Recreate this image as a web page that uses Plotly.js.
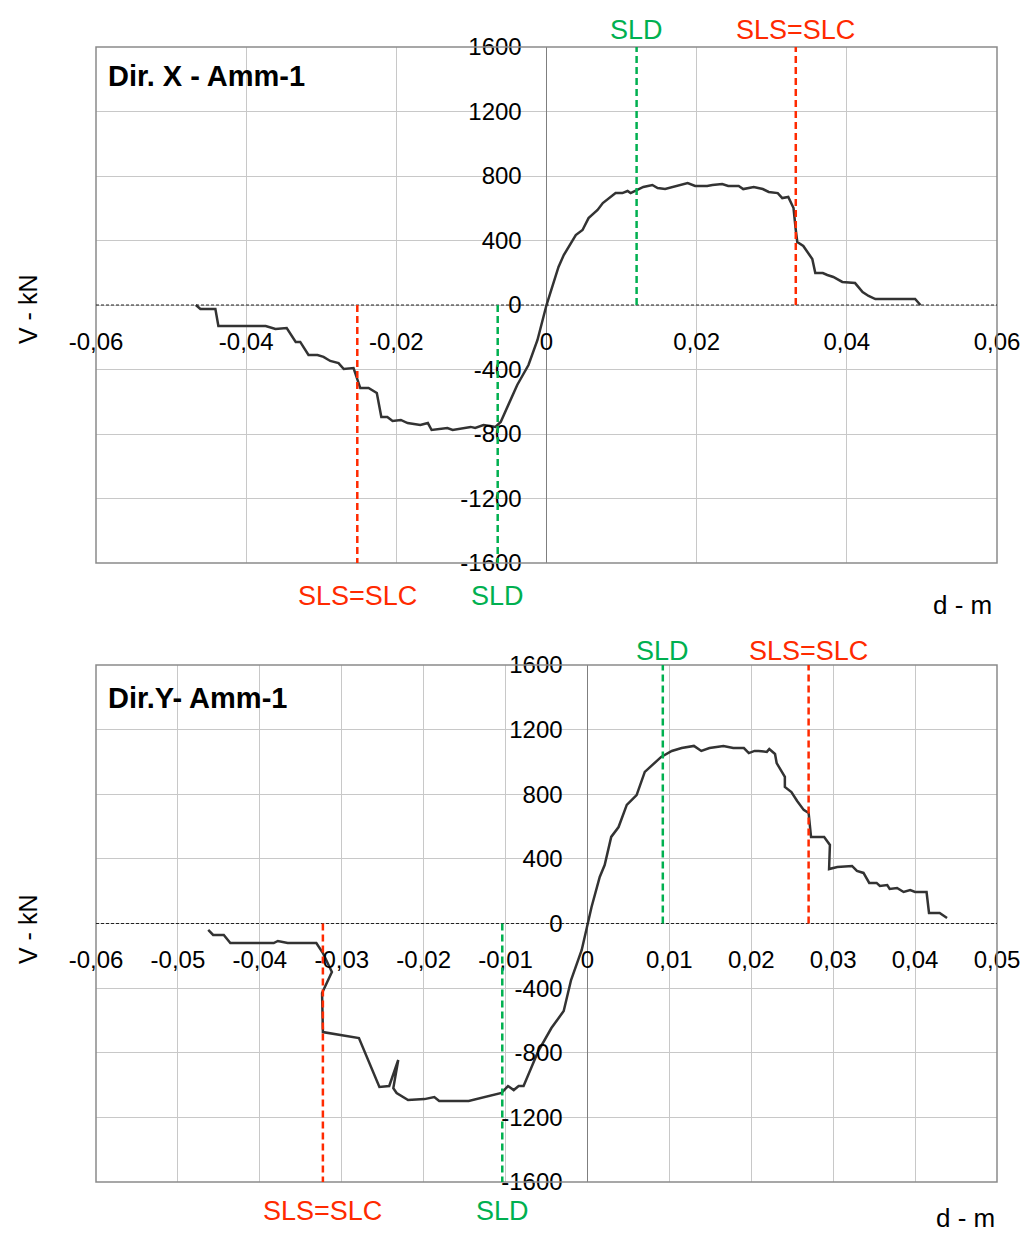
<!DOCTYPE html>
<html><head><meta charset="utf-8">
<script src="https://cdn.plot.ly/plotly-3.0.1.min.js"></script>
<style>body{margin:0;background:#fff}#chart{width:1020px;height:1234px}</style>
</head><body><div id="chart"></div>
<script>
// ---- Direction X (top chart) ----
const dispX = [-0.0467,-0.0461,-0.0441,-0.0437,-0.0374,-0.0361,-0.0346,-0.0334,-0.0328,-0.0317,-0.0305,-0.0297,-0.0288,-0.0277,-0.0270,-0.0257,-0.0248,-0.0237,-0.0226,-0.0220,-0.0212,-0.0205,-0.0194,-0.0185,-0.0168,-0.0158,-0.0153,-0.0132,-0.0125,-0.0101,-0.0095,-0.0084,-0.0075,-0.0068,-0.0061,-0.0039,-0.0024,-0.0012,0,0.0016,0.0023,0.0039,0.0048,0.0056,0.0068,0.0075,0.0092,0.0101,0.0108,0.0112,0.0123,0.0129,0.0141,0.0148,0.0158,0.0168,0.0178,0.0188,0.0198,0.0214,0.0221,0.0234,0.0242,0.0256,0.0262,0.0276,0.0288,0.0296,0.0308,0.0314,0.0322,0.0329,0.0332,0.0334,0.0342,0.0354,0.0358,0.0368,0.0374,0.0382,0.0394,0.0411,0.0421,0.0429,0.0438,0.0491,0.0498];
const shearX = [0,-25,-25,-130,-130,-149,-143,-229,-229,-310,-310,-322,-347,-360,-397,-391,-515,-515,-546,-694,-694,-719,-713,-732,-744,-732,-775,-763,-775,-756,-763,-744,-750,-756,-725,-496,-372,-217,0,236,310,434,465,539,589,632,694,694,707,694,719,732,744,725,719,732,744,756,738,738,744,750,738,738,719,732,719,701,694,663,670,601,465,391,366,285,198,198,186,174,143,136,81,56,37,37,0];
const sldX = [0.0120, -0.0065];
const slcX = [0.0332, -0.0252];
const tickValsX = [-0.06,-0.04,-0.02,0,0.02,0.04,0.06];
const tickTextX = ["-0,06","-0,04","-0,02","0","0,02","0,04","0,06"];

// ---- Direction Y (bottom chart) ----
const dispY = [-0.0463,-0.0457,-0.0444,-0.0436,-0.0383,-0.0378,-0.0366,-0.0331,-0.0323,-0.0312,-0.0324,-0.0323,-0.0279,-0.0254,-0.0242,-0.0231,-0.0237,-0.0233,-0.0219,-0.0199,-0.0187,-0.0181,-0.0145,-0.0126,-0.0105,-0.0097,-0.0090,-0.0084,-0.0078,-0.0060,-0.0044,-0.0029,-0.0020,-0.0007,-0.0001,0.0005,0.0015,0.0021,0.0029,0.0038,0.0048,0.0060,0.0070,0.0090,0.0103,0.0115,0.0130,0.0139,0.0149,0.0166,0.0178,0.0191,0.0197,0.0204,0.0209,0.0219,0.0222,0.0229,0.0231,0.0241,0.0241,0.0249,0.0256,0.0264,0.0270,0.0273,0.0289,0.0296,0.0295,0.0305,0.0323,0.0329,0.0337,0.0344,0.0353,0.0357,0.0366,0.0369,0.0378,0.0386,0.0394,0.0400,0.0414,0.0417,0.0430,0.0439];
const shearY = [-40,-71,-71,-121,-121,-108,-121,-121,-183,-300,-430,-672,-709,-1012,-1006,-845,-1019,-1049,-1093,-1087,-1074,-1099,-1099,-1074,-1049,-1006,-1031,-1006,-1006,-790,-647,-542,-350,-164,-22,102,288,362,536,597,734,795,938,1031,1068,1086,1099,1068,1086,1099,1086,1086,1055,1068,1068,1062,1080,1049,993,907,845,814,758,703,684,535,535,486,337,350,356,325,313,251,251,232,238,214,220,195,207,195,195,65,65,34];
const sldY = [0.0092, -0.0104];
const slcY = [0.0270, -0.0323];
const tickValsY = [-0.06,-0.05,-0.04,-0.03,-0.02,-0.01,0,0.01,0.02,0.03,0.04,0.05];
const tickTextY = ["-0,06","-0,05","-0,04","-0,03","-0,02","-0,01","0","0,01","0,02","0,03","0,04","0,05"];

const shearTicks = [-1600,-1200,-800,-400,0,400,800,1200,1600];
const shearTickText = ["-1600","-1200","-800","-400","0","400","800","1200","1600"];

const titles = ["Dir. X - Amm-1", "Dir.Y- Amm-1"];
const labelSLD = "SLD", labelSLC = "SLS=SLC";

// ---- layout helpers ----
const W = 1020, H = 1234;
const px = x => x / W, py = y => 1 - y / H;
const FONT = "Liberation Sans, Arial, sans-serif";
const RED = "#ff2a00", GREEN = "#00b050";
const xDom = [px(96), px(997)];
const panels = [
  {xa:"x", ya:"y", top:47, bot:563, range:[-0.06,0.06], tv:tickValsX, tt:tickTextX, d:dispX, v:shearX, sld:sldX, slc:slcX, title:titles[0],
   titleY:76, vTitleY:310, dTitle:[962,605], topLab:0, botLab:-16},
  {xa:"x2", ya:"y2", top:665, bot:1182, range:[-0.06,0.05], tv:tickValsY, tt:tickTextY, d:dispY, v:shearY, sld:sldY, slc:slcY, title:titles[1],
   titleY:698, vTitleY:930, dTitle:[965,1218], topLab:-3, botLab:-12}
];

const data = [];
const layout = {
  width: W, height: H, margin:{l:0,r:0,t:0,b:0}, showlegend:false,
  paper_bgcolor:"#fff", plot_bgcolor:"#fff",
  font:{family:FONT, size:24, color:"#000"},
  shapes:[], annotations:[]
};

panels.forEach((p, i) => {
  const sfx = i === 0 ? "" : "2";
  const yDom = [py(p.bot), py(p.top)];
  const xZeroPos = xDom[0] + (0 - p.range[0]) / (p.range[1] - p.range[0]) * (xDom[1] - xDom[0]);
  const yZeroPos = (yDom[0] + yDom[1]) / 2;
  layout["xaxis" + sfx] = {
    domain: xDom, range: p.range, anchor: "free", position: yZeroPos,
    tickmode: "array", tickvals: p.tv, ticktext: p.tt, ticklabeloverflow: "allow",
    showgrid: true, gridcolor: "#c8c8c8", gridwidth: 1,
    zeroline: true, zerolinecolor: "#7f7f7f", zerolinewidth: 1.5,
    showline: false, ticks: "outside", ticklen: 15, tickcolor: "rgba(0,0,0,0)",
    tickfont: {family: FONT, size: 24, color: "#000"}, fixedrange: true
  };
  layout["yaxis" + sfx] = {
    domain: yDom, range: [-1600, 1600], anchor: "free", position: xZeroPos,
    tickmode: "array", tickvals: shearTicks, ticktext: shearTickText, ticklabeloverflow: "allow",
    showgrid: true, gridcolor: "#c8c8c8", gridwidth: 1,
    zeroline: false, showline: false, ticks: "outside", ticklen: 20, tickcolor: "rgba(0,0,0,0)",
    tickfont: {family: FONT, size: 24, color: "#000"}, fixedrange: true
  };
  data.push({x: p.d, y: p.v, xaxis: p.xa, yaxis: p.ya, type: "scatter", mode: "lines",
             line: {color: "#333333", width: 2.5}, hoverinfo: "skip"});
  // frame
  layout.shapes.push({type:"rect", xref:p.xa+" domain", yref:p.ya+" domain", x0:0, x1:1, y0:0, y1:1,
    line:{color:"#8a8a8a", width:1.5}, layer:"above"});
  // dashed zero line
  layout.shapes.push({type:"line", xref:p.xa+" domain", yref:p.ya, x0:0, x1:1, y0:0, y1:0,
    line:{color:"#222", width:1, dash:"3px,2px"}, layer:"above"});
  // threshold lines
  const thr = [[p.sld[0], 1600, GREEN, labelSLD, 1], [p.slc[0], 1600, RED, labelSLC, 1],
               [p.slc[1], -1600, RED, labelSLC, -1], [p.sld[1], -1600, GREEN, labelSLD, -1]];
  thr.forEach(t => {
    layout.shapes.push({type:"line", xref:p.xa, yref:p.ya, x0:t[0], x1:t[0], y0:0, y1:t[1],
      line:{color:t[2], width:2.5, dash:"7px,4px"}, layer:"above"});
    layout.annotations.push({xref:p.xa, yref:p.ya+" domain", x:t[0], y: t[4] > 0 ? 1 : 0,
      yanchor: t[4] > 0 ? "bottom" : "top", yshift: t[4] > 0 ? p.topLab : p.botLab,
      text:t[3], showarrow:false, font:{family:FONT, size:27, color:t[2]}});
  });
  // panel title
  layout.annotations.push({xref:"paper", yref:"paper", x:px(106), y:py(p.titleY), xanchor:"left", yanchor:"middle",
    text:"<b>"+p.title+"</b>", showarrow:false, font:{family:FONT, size:29, color:"#000"}});
  // axis titles
  layout.annotations.push({xref:"paper", yref:"paper", x:px(28), y:py(p.vTitleY), xanchor:"center", yanchor:"middle",
    text:"V - kN", textangle:-90, showarrow:false, font:{family:FONT, size:25, color:"#000"}});
  layout.annotations.push({xref:"paper", yref:"paper", x:px(p.dTitle[0]), y:py(p.dTitle[1]), xanchor:"center", yanchor:"middle",
    text:"d - m", showarrow:false, font:{family:FONT, size:26, color:"#000"}});
});

Plotly.newPlot("chart", data, layout, {staticPlot:true, displayModeBar:false});
</script></body></html>
